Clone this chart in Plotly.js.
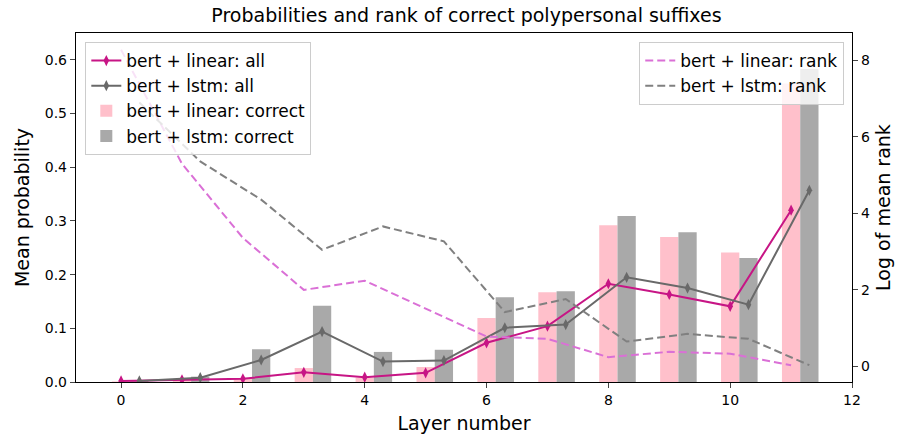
<!DOCTYPE html>
<html>
<head>
<meta charset="utf-8">
<script src="https://cdn.plot.ly/plotly-3.0.1.min.js"></script>
<style>html,body{margin:0;padding:0;background:#fff;}#chart{width:897px;height:441px;}</style>
</head>
<body>
<div id="chart"></div>
<script>
var layers = [0,1,2,3,4,5,6,7,8,9,10,11];
var lstmOffset = 0.3;
var linearAll = [0.002, 0.004, 0.006, 0.018, 0.009, 0.017, 0.073, 0.104, 0.183, 0.163, 0.141, 0.320];
var lstmAll = [0.002, 0.008, 0.041, 0.094, 0.038, 0.040, 0.101, 0.107, 0.195, 0.175, 0.144, 0.357];
var linearCorrect = [0.001, 0.005, 0.007, 0.026, 0.008, 0.028, 0.119, 0.167, 0.292, 0.270, 0.241, 0.556];
var lstmCorrect = [0.002, 0.010, 0.061, 0.142, 0.056, 0.060, 0.158, 0.169, 0.309, 0.279, 0.231, 0.583];
var linearRank = [8.28, 5.30, 3.36, 2.00, 2.24, 1.50, 0.78, 0.72, 0.24, 0.38, 0.33, 0.03];
var lstmRank = [6.90, 5.36, 4.36, 3.05, 3.66, 3.27, 1.42, 1.76, 0.65, 0.85, 0.72, 0.03];
var xTicks = [0,2,4,6,8,10,12];
var y1Ticks = [0,0.1,0.2,0.3,0.4,0.5,0.6];
var y2Ticks = [0,2,4,6,8];

var shifted = layers.map(function(v){return v + lstmOffset;});
var FONT = 'DejaVu Sans, sans-serif';

var traces = [
  {type:'bar', x:layers, y:linearCorrect, width:0.3, name:'bert + linear: correct',
   marker:{color:'#ffc0cb', line:{width:0}}, legend:'legend', legendrank:3},
  {type:'bar', x:shifted, y:lstmCorrect, width:0.3, name:'bert + lstm: correct',
   marker:{color:'#a9a9a9', line:{width:0}}, legend:'legend', legendrank:4},
  {type:'scatter', mode:'lines+markers', x:layers, y:linearAll, name:'bert + linear: all',
   line:{color:'#c71585', width:2}, marker:{symbol:'diamond-tall', size:8, color:'#c71585'},
   legend:'legend', legendrank:1},
  {type:'scatter', mode:'lines+markers', x:shifted, y:lstmAll, name:'bert + lstm: all',
   line:{color:'#696969', width:2}, marker:{symbol:'diamond-tall', size:8, color:'#696969'},
   legend:'legend', legendrank:2},
  {type:'scatter', mode:'lines', x:layers, y:linearRank, yaxis:'y2', name:'bert + linear: rank',
   line:{color:'#da70d6', width:2, dash:'8px,4px'}, legend:'legend2', legendrank:1},
  {type:'scatter', mode:'lines', x:shifted, y:lstmRank, yaxis:'y2', name:'bert + lstm: rank',
   line:{color:'#808080', width:2, dash:'8px,4px'}, legend:'legend2', legendrank:2}
];

var layout = {
  width:897, height:441,
  margin:{l:76, r:45, t:33, b:59},
  paper_bgcolor:'#fff', plot_bgcolor:'#fff',
  font:{family:FONT, size:14, color:'#000'},
  barmode:'overlay',
  title:{text:'Probabilities and rank of correct polypersonal suffixes', font:{family:FONT, size:19, color:'#000'},
         x:0.52, xanchor:'center', y:0.966, yanchor:'middle'},
  xaxis:{range:[-0.74, 12], tickvals:xTicks, ticktext:xTicks.map(String), ticks:'outside', ticklen:5,
         showline:true, linecolor:'#000', linewidth:1.2, mirror:true, showgrid:false, zeroline:false,
         title:{text:'Layer number', font:{size:19}, standoff:9}, automargin:false},
  yaxis:{range:[0, 0.65], tickvals:y1Ticks, ticktext:y1Ticks.map(function(v){return v.toFixed(1);}),
         ticks:'outside', ticklen:5, showline:true, linecolor:'#000', linewidth:1.2, showgrid:false, zeroline:false,
         title:{text:'Mean probability', font:{size:19}, standoff:10}, automargin:false},
  yaxis2:{range:[-0.41, 8.72], overlaying:'y', side:'right', tickvals:y2Ticks, ticktext:y2Ticks.map(String),
          ticks:'outside', ticklen:5, showline:true, linecolor:'#000', linewidth:1.2, showgrid:false, zeroline:false,
          title:{text:'Log of mean rank', font:{size:19}, standoff:7}, automargin:false},
  legend:{x:0.012, y:0.974, xanchor:'left', yanchor:'top', bgcolor:'rgba(255,255,255,0.8)',
          bordercolor:'#cccccc', borderwidth:1, font:{size:17}, traceorder:'normal'},
  legend2:{x:0.99, y:0.974, xanchor:'right', yanchor:'top', bgcolor:'rgba(255,255,255,0.8)',
          bordercolor:'#cccccc', borderwidth:1, font:{size:17}, traceorder:'normal'},
  showlegend:true
};

Plotly.newPlot('chart', traces, layout, {displayModeBar:false, staticPlot:true});
</script>
</body>
</html>
